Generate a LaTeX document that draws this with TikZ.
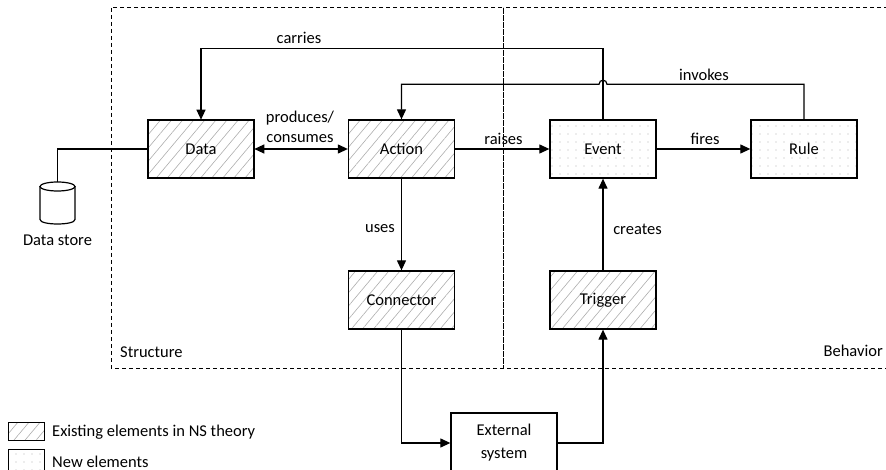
\documentclass[tikz,border=0pt]{standalone}
\usepackage{fontspec}
\setmainfont{Carlito}
\usetikzlibrary{arrows.meta,patterns.meta}
\begin{document}
\begin{tikzpicture}[x=1pt,y=-1pt,
  font=\fontsize{16.5}{20}\selectfont,
  elem/.style={draw,line width=1.3pt,minimum width=106pt,minimum height=58pt,inner sep=0pt},
  existing/.style={elem,pattern={Lines[angle=50,distance=8.5pt,line width=0.6pt]},pattern color=black!32},
  newel/.style={elem,pattern={Dots[distance=8pt,radius=0.7pt]},pattern color=black!30},
  conn/.style={line width=1.2pt},
  arr/.style={conn,-{Triangle[length=10pt,width=9pt]}},
  arrboth/.style={conn,{Triangle[length=10pt,width=9pt]}-{Triangle[length=10pt,width=9pt]}},
  region/.style={draw,line width=1pt,dash pattern=on 4pt off 3pt},
  lbl/.style={inner sep=0pt}
]
\useasboundingbox (0,0) rectangle (886,470);
\clip (0,0) rectangle (886,470);

% regions
\draw[region] (111,8) rectangle (503,368);
\draw[region] (503,8) rectangle (892,368);
\node[lbl,anchor=west] (lstruct) at (120,352) {Structure};
\node[lbl,anchor=east] (lbeh) at (883,351) {Behavior};

% elements
\node[existing] (data) at (201,149) {Data};
\node[existing] (action) at (401.5,149) {Action};
\node[newel] (event) at (603,149) {Event};
\node[newel] (rule) at (804,149) {Rule};
\node[existing] (connector) at (401.5,300) {Connector};
\node[existing] (trigger) at (603,300) {Trigger};
\node[elem,minimum height=60pt,align=center,font=\fontsize{16.5}{23}\selectfont] (ext) at (504,443) {External\\system};

% data store (cylinder)
\node[inner sep=0pt,minimum width=35pt,minimum height=42pt] (store) at (57.5,203) {};
\draw[line width=1.2pt] (40,186.5) -- (40,219.5)
  .. controls (40,225.5) and (75,225.5) .. (75,219.5) -- (75,186.5);
\draw[line width=1.2pt] (57.5,186.5) ellipse [x radius=17.5, y radius=4.5];
\node[lbl] (storelbl) at (57.5,240) {Data store};

% connectors
\draw[conn] (store.north) |- (data.west);
\draw[arrboth] (data) -- (action);
\draw[arr] (action) -- (event);
\draw[arr] (event) -- (rule);
\draw[arr] (action) -- (connector);
\draw[arr] (trigger) -- (event);
\draw[arr] (connector.south) |- (ext.west);
\draw[arr] (ext.east) -| (trigger.south);
\draw[arr] (event.north) -- ++(0,-71) -| (data.north);
\path (rule.north) ++(0,-35) coordinate (inv);
\path (event.north |- inv) coordinate (hopc);
\draw[arr] (rule.north) -- (inv) -- ([xshift=4pt]hopc)
  .. controls ([xshift=4pt,yshift=5.5pt]hopc) and ([xshift=-4pt,yshift=5.5pt]hopc) .. ([xshift=-4pt]hopc)
  -| (action.north);

% labels
\node[lbl] (lcarries) at (299,38) {carries};
\node[lbl] (linvokes) at (704,75) {invokes};
\node[lbl,align=center] (lprod) at (300,127) {produces/\\consumes};
\node[lbl] (lraises) at (503.5,139) {raises};
\node[lbl] (lfires) at (705,139) {fires};
\node[lbl] (luses) at (380,229) {uses};
\node[lbl] (lcreates) at (637.5,229) {creates};

% legend
\node[draw,line width=0.9pt,minimum width=36pt,minimum height=18pt,inner sep=0pt,
  pattern={Lines[angle=50,distance=8.5pt,line width=0.6pt]},pattern color=black!32] (legex) at (26,431) {};
\node[lbl,anchor=west] (legextxt) at (52,432) {Existing elements in NS theory};
\node[draw,line width=0.9pt,minimum width=36pt,minimum height=22pt,inner sep=0pt,
  pattern={Dots[distance=8pt,radius=0.7pt]},pattern color=black!30] (legnew) at (26,460) {};
\node[lbl,anchor=west] (legnewtxt) at (52,462) {New elements};
\end{tikzpicture}
\end{document}
